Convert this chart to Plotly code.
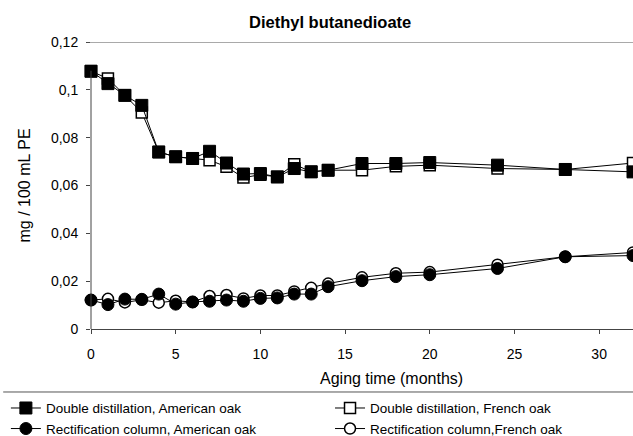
import plotly.graph_objects as go

months = [0, 1, 2, 3, 4, 5, 6, 7, 8, 9, 10, 11, 12, 13, 14, 16, 18, 20, 24, 28, 32]

dd_american = [0.1078, 0.1026, 0.0977, 0.0935, 0.0740, 0.0720, 0.0713, 0.0743, 0.0694, 0.0648,
               0.0650, 0.0636, 0.0671, 0.0657, 0.0664, 0.0692, 0.0692, 0.0696, 0.0685, 0.0667, 0.0657]
dd_french = [0.1078, 0.1047, 0.0977, 0.0905, 0.0740, 0.0720, 0.0713, 0.0706, 0.0678, 0.0633,
             0.0645, 0.0636, 0.0689, 0.0657, 0.0664, 0.0664, 0.0680, 0.0685, 0.0671, 0.0667, 0.0694]
rc_american = [0.0121, 0.0102, 0.0125, 0.0124, 0.0146, 0.0104, 0.0113, 0.0116, 0.0121, 0.0116,
               0.0128, 0.0130, 0.0146, 0.0146, 0.0177, 0.0202, 0.0219, 0.0227, 0.0253, 0.0302, 0.0307]
rc_french = [0.0121, 0.0126, 0.0111, 0.0122, 0.0110, 0.0118, 0.0113, 0.0138, 0.0142, 0.0128,
             0.0140, 0.0140, 0.0157, 0.0172, 0.0190, 0.0216, 0.0233, 0.0238, 0.0269, 0.0302, 0.0320]

names = ["Double distillation, American oak", "Double distillation, French oak",
         "Rectification column, American oak", "Rectification column,French oak"]

y_ticks = [0, 0.02, 0.04, 0.06, 0.08, 0.1, 0.12]
y_ticktext = ["0", "0,02", "0,04", "0,06", "0,08", "0,1", "0,12"]
x_ticks = [0, 5, 10, 15, 20, 25, 30]

FONT = "Liberation Sans, Arial, sans-serif"

fig = go.Figure()
# French (open) series drawn first so the American (filled) markers sit on top
series = [
    (dd_french, names[1], "square", "white", 11, "legend2"),
    (rc_french, names[3], "circle", "white", 11, "legend2"),
    (dd_american, names[0], "square", "black", 12, "legend"),
    (rc_american, names[2], "circle", "black", 12, "legend"),
]
for vals, nm, sym, fill, sz, lg in series:
    fig.add_trace(go.Scatter(
        x=months, y=vals, name=nm, mode="lines+markers",
        line=dict(color="black", width=1),
        marker=dict(symbol=sym, size=sz, color=fill,
                    line=dict(color="black", width=1.5 if fill == "white" else 1)),
        cliponaxis=False, legend=lg,
    ))

leg_common = dict(orientation="v", xanchor="left", y=-0.222, yanchor="top",
                  traceorder="normal", font=dict(size=13.5, family=FONT),
                  bgcolor="rgba(0,0,0,0)", borderwidth=0, tracegroupgap=0)

fig.update_layout(
    width=633, height=436,
    margin=dict(l=91, r=0, t=42, b=107, autoexpand=False),
    paper_bgcolor="white", plot_bgcolor="white",
    font=dict(family=FONT, size=14, color="black"),
    showlegend=True,
    legend=dict(x=-0.157, **leg_common),
    legend2=dict(x=0.441, **leg_common),
    xaxis=dict(range=[0, 32], tickvals=x_ticks, showgrid=False, zeroline=False,
               showline=True, linecolor="#444", linewidth=1, automargin=False,
               ticks="outside", ticklen=4, tickcolor="#444", ticklabelstandoff=8,
               tickfont=dict(size=14)),
    yaxis=dict(range=[0, 0.12], tickvals=y_ticks, ticktext=y_ticktext, showgrid=False,
               zeroline=False, showline=False, automargin=False,
               ticks="outside", ticklen=4, tickcolor="#444", ticklabelstandoff=5,
               tickfont=dict(size=14)),
)

# titles as annotations
fig.add_annotation(text="<b>Diethyl butanedioate</b>", xref="paper", yref="paper",
                   x=(330 - 91) / 542, y=(329 - 22) / 287, showarrow=False,
                   xanchor="center", yanchor="middle", font=dict(size=16.5, family=FONT))
fig.add_annotation(text="Aging time (months)", xref="paper", yref="paper",
                   x=(391 - 91) / 542, y=(329 - 378) / 287, showarrow=False,
                   xanchor="center", yanchor="middle", font=dict(size=16, family=FONT))
fig.add_annotation(text="mg / 100 mL PE", xref="paper", yref="paper",
                   x=(24 - 91) / 542, y=0.5, showarrow=False, textangle=-90,
                   xanchor="center", yanchor="middle", font=dict(size=16, family=FONT))

# top reference line at 0.12, y axis line, and legend separator line
fig.add_shape(type="line", xref="paper", yref="y", x0=-0.008, x1=1, y0=0.12, y1=0.12,
              line=dict(color="#555", width=1))
fig.add_shape(type="line", xref="paper", yref="paper", x0=0, x1=0, y0=0, y1=0.9,
              line=dict(color="#444", width=1))
fig.add_shape(type="line", xref="paper", yref="paper", x0=-0.162, x1=1, y0=-0.2195, y1=-0.2195,
              line=dict(color="#555", width=1))

fig.write_html("out.html")
